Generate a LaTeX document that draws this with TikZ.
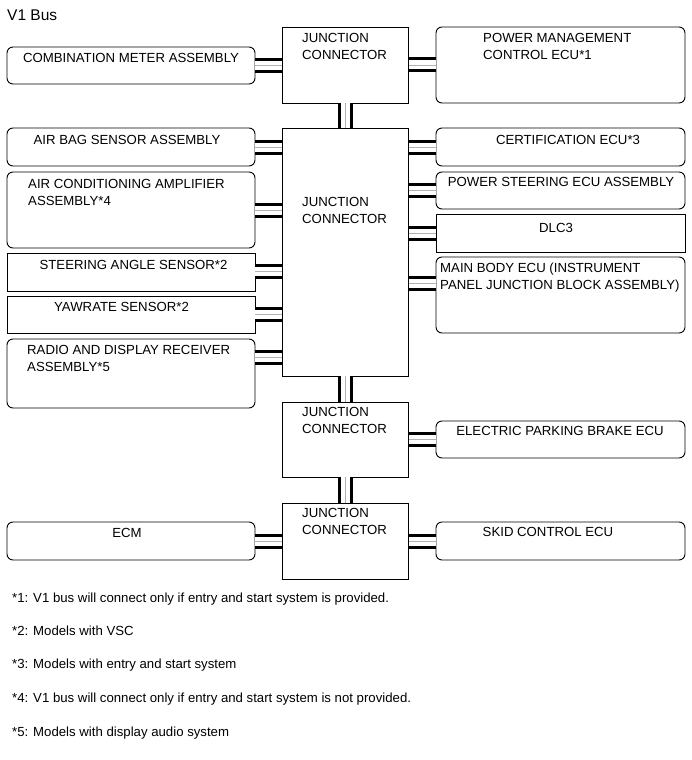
\documentclass[tikz,border=0pt]{standalone}
\usepackage{fontspec}
\setmainfont{Liberation Sans}
\usetikzlibrary{positioning}

\begin{document}
\begin{tikzpicture}[
  x=1pt, y=-1pt,
  ecu/.style={draw=black, line width=0.9pt, rounded corners=6pt, fill=white, inner sep=0pt,
    minimum width=248pt},
  sqecu/.style={ecu, sharp corners},
  jbox/.style={draw=black, line width=0.9pt, fill=white, inner sep=0pt, minimum width=126pt},
  txt/.style={font=\fontsize{13.2}{17}\selectfont, inner sep=0pt, align=left, anchor=north west},
  ctxt/.style={txt, align=center, anchor=north},
  bus/.style={draw=black, line width=15pt,
    postaction={draw=white, line width=9pt},
    postaction={draw=gray!60, line width=0.8pt}}
]
\useasboundingbox (0,0) rectangle (691,760);

\node[txt, font=\fontsize{15.5}{18}\selectfont] (title) at (7,9.5) {V1 Bus};

% junction connectors
\node[jbox, minimum height=76pt] (jcA) at (345.5,65) {};
\node[jbox, minimum height=248pt] (jcMain) at (345.5,252) {};
\node[jbox, minimum height=75pt] (jcB) at (345.5,439.5) {};
\node[jbox, minimum height=76pt] (jcC) at (345.5,541) {};

% left side
\node[ecu, minimum height=37pt] (cm) at (131,65.5) {};
\node[ecu, minimum height=38pt] (airbag) at (131,147) {};
\node[ecu, minimum height=76pt] (acamp) at (131,210) {};
\node[sqecu, minimum height=38pt] (steer) at (131,272) {};
\node[sqecu, minimum height=37pt] (yaw) at (131,314.5) {};
\node[ecu, minimum height=69pt] (radio) at (131,373.5) {};
\node[ecu, minimum height=38pt] (ecm) at (131,541) {};

% right side
\node[ecu, minimum width=249pt, minimum height=76pt] (pmecu) at (560.5,65) {};
\node[ecu, minimum width=249pt, minimum height=38pt] (cert) at (560.5,147) {};
\node[ecu, minimum width=249pt, minimum height=37pt] (psecu) at (560.5,190.5) {};
\node[sqecu, minimum width=249pt, minimum height=38pt] (dlc) at (560.5,233) {};
\node[ecu, minimum width=249pt, minimum height=76pt] (mbecu) at (560.5,295) {};
\node[ecu, minimum width=249pt, minimum height=37pt] (epb) at (560.5,439.5) {};
\node[ecu, minimum width=249pt, minimum height=38pt] (skid) at (560.5,541) {};

% labels
\node[txt] (jcA-t) at (302,33) {JUNCTION\\CONNECTOR};
\node[txt] (jcMain-t) at (302,197) {JUNCTION\\CONNECTOR};
\node[txt] (jcB-t) at (302,407) {JUNCTION\\CONNECTOR};
\node[txt] (jcC-t) at (302,508) {JUNCTION\\CONNECTOR};
\node[ctxt] (cm-t) at (131,53) {COMBINATION METER ASSEMBLY};
\node[ctxt] (airbag-t) at (127,135) {AIR BAG SENSOR ASSEMBLY};
\node[txt] (acamp-t) at (28,179) {AIR CONDITIONING AMPLIFIER\\ASSEMBLY*4};
\node[ctxt] (steer-t) at (133.5,260) {STEERING ANGLE SENSOR*2};
\node[ctxt] (yaw-t) at (121.5,302) {YAWRATE SENSOR*2};
\node[txt] (radio-t) at (27,345.5) {RADIO AND DISPLAY RECEIVER\\ASSEMBLY*5};
\node[ctxt] (ecm-t) at (127,528) {ECM};
\node[txt] (pmecu-t) at (483,33) {POWER MANAGEMENT\\CONTROL ECU*1};
\node[ctxt] (cert-t) at (568,135) {CERTIFICATION ECU*3};
\node[ctxt] (psecu-t) at (561,177) {POWER STEERING ECU ASSEMBLY};
\node[ctxt] (dlc-t) at (556,223) {DLC3};
\node[txt] (mbecu-t) at (440,263) {MAIN BODY ECU (INSTRUMENT\\PANEL JUNCTION BLOCK ASSEMBLY)};
\node[ctxt] (epb-t) at (560,426) {ELECTRIC PARKING BRAKE ECU};
\node[ctxt] (skid-t) at (548,527) {SKID CONTROL ECU};

% bus lines
\draw[bus] (jcA.south) -- (jcMain.north);
\draw[bus] (jcMain.south) -- (jcB.north);
\draw[bus] (jcB.south) -- (jcC.north);
\draw[bus] (cm.east) -- (cm.east -| jcA.west);
\draw[bus] (airbag.east) -- (airbag.east -| jcMain.west);
\draw[bus] (acamp.east) -- (acamp.east -| jcMain.west);
\draw[bus] (steer.east |- 0,271) -- (jcMain.west |- 0,271);
\draw[bus] (yaw.east) -- (yaw.east -| jcMain.west);
\draw[bus] (radio.east |- 0,357) -- (jcMain.west |- 0,357);
\draw[bus] (ecm.east) -- (ecm.east -| jcC.west);
\draw[bus] (jcA.east) -- (jcA.east -| pmecu.west);
\draw[bus] (cert.west -| jcMain.east) -- (cert.west);
\draw[bus] (psecu.west -| jcMain.east) -- (psecu.west);
\draw[bus] (dlc.west -| jcMain.east) -- (dlc.west);
\draw[bus] (jcMain.east |- 0,283) -- (mbecu.west |- 0,283);
\draw[bus] (jcB.east) -- (epb.west);
\draw[bus] (jcC.east) -- (skid.west);

% notes
\node[txt] (n1) at (12,592.5) {*1: V1 bus will connect only if entry and start system is provided.};
\node[txt] (n2) at (12,625.5) {*2: Models with VSC};
\node[txt] (n3) at (12,658.5) {*3: Models with entry and start system};
\node[txt] (n4) at (12,693) {*4: V1 bus will connect only if entry and start system is not provided.};
\node[txt] (n5) at (12,727) {*5: Models with display audio system};
\end{tikzpicture}
\end{document}
